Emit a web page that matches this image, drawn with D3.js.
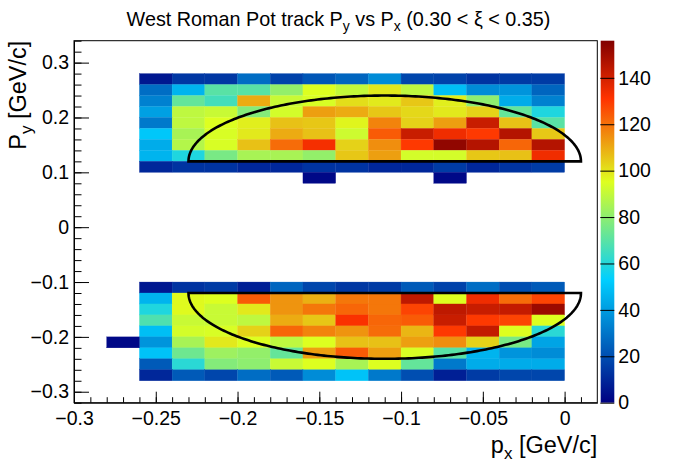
<!DOCTYPE html>
<html>
<head>
<meta charset="utf-8">
<script src="https://cdn.jsdelivr.net/npm/d3@7"></script>
<style>
  body { margin: 0; background: #fff; }
  text { font-family: "Liberation Sans", Arial, Helvetica, sans-serif; fill: #000; }
</style>
</head>
<body>
<div id="chart"></div>
<script>
// West Roman Pot track Py vs Px, 0.30 < xi < 0.35  (COLZ style)

// lower-left corners of the 0.02 x 0.02 bins
var pxBins = [-0.26, -0.24, -0.22, -0.20, -0.18, -0.16, -0.14, -0.12, -0.10, -0.08, -0.06, -0.04, -0.02];
var pyBinsTop = [0.26, 0.24, 0.22, 0.20, 0.18, 0.16, 0.14, 0.12, 0.10];
var pyBinsBottom = [-0.12, -0.14, -0.16, -0.18, -0.20, -0.22, -0.24, -0.26, -0.28];

var countsTop = [
  [ 6, 14, 14,  28,  17,  22,  26,  36,  18,  17,  13,  15,  15],
  [28, 46, 70,  70,  81,  95,  90,  99,  89,  49,  36,  38,  26],
  [33, 72, 66, 110,  91,  94, 101,  99, 105,  98,  80,  44,  33],
  [41, 89, 91,  78,  93, 112, 110, 105, 102,  99, 103,  72,  59],
  [31, 89, 95,  98, 106, 105,  97, 117, 103, 112, 142, 106,  70],
  [51, 85, 94,  99, 110, 106,  92, 124, 142, 134, 130, 146, 105],
  [44, 87, 94, 106, 121, 133, 103, 115, 130, 153, 146, 122, 146],
  [46, 59, 76,  85,  85,  81, 105, 112,  93,  93, 105, 106, 134],
  [10, 13, 13,  10,  10,  13,  13,  10,  10,  15,  10,  13,  15]
];

var countsBottom = [
  [ 6, 13, 15,   8,  26,  18,  14,  15,  23,  17,  28,  20,  23],
  [46, 96, 95, 124, 114, 109, 119, 119, 144,  95, 134, 121, 128],
  [59, 96, 91,  99, 114, 119, 122, 119, 128, 144, 142, 143, 151],
  [68, 91, 91,  89, 110, 105, 132, 122, 124, 142, 130, 128,  95],
  [49, 93, 94, 103, 122, 117, 114, 121, 108, 130, 143,  95,  61],
  [38, 85, 99,  95,  89,  95, 106, 106, 112, 115, 103,  76,  42],
  [50, 74, 83,  81,  72, 112, 124, 112,  94,  70,  46,  38,  36],
  [23, 61, 78,  80,  91,  95,  85,  95,  72,  31,  44,  44,  44],
  [10, 23, 18,  28,  23,  36,  50,  31,  20,   8,  15,  18,  18]
];

// lone bins outside the two bands
var strayPx = [-0.16, -0.08, -0.28];
var strayPy = [0.08, 0.08, -0.22];
var strayN = [2, 2, 2];

// cut shapes: half ellipses closed by a straight line
var cutCx = -0.11, cutRx = 0.12, cutRy = 0.12;
var cutCy = [0.12, -0.12];

var xTicks = [-0.3, -0.25, -0.2, -0.15, -0.1, -0.05, 0];
var yTicks = [-0.3, -0.2, -0.1, 0, 0.1, 0.2, 0.3];
var zTicks = [0, 20, 40, 60, 80, 100, 120, 140];
var zMax = 156;
var binW = 0.02;

var width = 677, height = 464;
var frame = { left: 74, right: 597.3, top: 40.7, bottom: 402.7 };
var bar = { left: 600.7, right: 614.3 };

var svg = d3.select("#chart").append("svg")
  .attr("width", width)
  .attr("height", height);

var x = d3.scaleLinear().domain([-0.3, 0.02]).range([frame.left, frame.right]);
var y = d3.scaleLinear().domain([-0.32, 0.34]).range([frame.bottom, frame.top]);
var z = d3.scaleLinear().domain([0, zMax]).range([frame.bottom, frame.top]);

// classic ROOT rainbow gradient
var stops = [0, 0.34, 0.61, 0.84, 1];
var stopColors = ["rgb(0,0,130)", "rgb(0,207,255)", "rgb(222,255,31)", "rgb(255,51,0)", "rgb(130,0,0)"];
var color = d3.scaleLinear()
  .domain(stops.map(function (s) { return s * zMax; }))
  .range(stopColors)
  .interpolate(d3.interpolateRgb)
  .clamp(true);

var cells = [];
function addBand(rows, counts) {
  rows.forEach(function (py, i) {
    pxBins.forEach(function (px, j) {
      if (counts[i][j] > 0) cells.push({ px: px, py: py, n: counts[i][j] });
    });
  });
}
addBand(pyBinsTop, countsTop);
addBand(pyBinsBottom, countsBottom);
strayPx.forEach(function (px, i) { cells.push({ px: px, py: strayPy[i], n: strayN[i] }); });

svg.append("g")
  .selectAll("rect")
  .data(cells).enter()
  .append("rect")
  .attr("x", function (d) { return x(d.px); })
  .attr("y", function (d) { return y(d.py + binW); })
  .attr("width", function (d) { return x(d.px + binW) - x(d.px); })
  .attr("height", function (d) { return y(d.py) - y(d.py + binW); })
  .attr("fill", function (d) { return color(d.n); })
  .attr("stroke", function (d) { return color(d.n); })
  .attr("stroke-width", 0.3);

// cut outlines
var theta = d3.range(0, 181).map(function (a) { return a * Math.PI / 180; });
cutCy.forEach(function (cy) {
  var sgn = cy > 0 ? 1 : -1;
  var line = d3.line()
    .x(function (t) { return x(cutCx + cutRx * Math.cos(t)); })
    .y(function (t) { return y(cy + sgn * cutRy * Math.sin(t)); });
  svg.append("path")
    .attr("d", line(theta) + "Z")
    .attr("fill", "none")
    .attr("stroke", "#000")
    .attr("stroke-width", 2.6);
});

// frame
svg.append("rect")
  .attr("x", frame.left)
  .attr("y", frame.top)
  .attr("width", frame.right - frame.left)
  .attr("height", frame.bottom - frame.top)
  .attr("fill", "none")
  .attr("stroke", "#000")
  .attr("stroke-width", 1);

var fmt = d3.format("~g");

// axes, ticks pointing inward like ROOT
var xMinor = d3.range(-30, 2, 1).map(function (v) { return v / 100; });
var yMinor = d3.range(-32, 35, 2).map(function (v) { return v / 100; });

svg.append("g")
  .attr("transform", "translate(0," + frame.bottom + ")")
  .call(d3.axisBottom(x).tickValues(xMinor).tickSize(-5.5).tickSizeOuter(0).tickFormat(""))
  .call(function (g) { g.select(".domain").remove(); });

svg.append("g")
  .attr("class", "axis")
  .attr("transform", "translate(0," + frame.bottom + ")")
  .call(d3.axisBottom(x).tickValues(xTicks).tickSize(-11).tickSizeOuter(0).tickPadding(8.5).tickFormat(fmt));

svg.append("g")
  .attr("transform", "translate(" + frame.left + ",0)")
  .call(d3.axisLeft(y).tickValues(yMinor).tickSize(-7.5).tickSizeOuter(0).tickFormat(""))
  .call(function (g) { g.select(".domain").remove(); });

svg.append("g")
  .attr("class", "axis")
  .attr("transform", "translate(" + frame.left + ",0)")
  .call(d3.axisLeft(y).tickValues(yTicks).tickSize(-15).tickSizeOuter(0).tickPadding(5).tickFormat(fmt));

svg.selectAll(".axis text")
  .style("font-size", "19.5px")
  .style("font-family", "'Liberation Sans', Arial, sans-serif");

// palette
var grad = svg.append("defs").append("linearGradient")
  .attr("id", "pal")
  .attr("x1", 0).attr("y1", 1).attr("x2", 0).attr("y2", 0);
grad.selectAll("stop")
  .data(stops).enter()
  .append("stop")
  .attr("offset", function (d) { return d; })
  .attr("stop-color", function (d, i) { return stopColors[i]; });

svg.append("rect")
  .attr("x", bar.left)
  .attr("y", z(zMax))
  .attr("width", bar.right - bar.left)
  .attr("height", z(0) - z(zMax))
  .attr("fill", "url(#pal)");

svg.append("g")
  .attr("class", "zaxis")
  .attr("transform", "translate(" + bar.right + ",0)")
  .call(d3.axisRight(z).tickValues(zTicks).tickSize(-14).tickSizeOuter(0).tickPadding(4).tickFormat(fmt))
  .call(function (g) { g.select(".domain").remove(); });

svg.selectAll(".zaxis text")
  .style("font-size", "19.5px")
  .style("font-family", "'Liberation Sans', Arial, sans-serif");

// titles
var title = svg.append("text")
  .attr("x", 338.5)
  .attr("y", 26)
  .attr("text-anchor", "middle")
  .style("font-size", "19.8px");
title.append("tspan").text("West Roman Pot track P");
title.append("tspan").attr("dy", 4.5).style("font-size", "14px").text("y");
title.append("tspan").attr("dy", -4.5).text(" vs P");
title.append("tspan").attr("dy", 4.5).style("font-size", "14px").text("x");
title.append("tspan").attr("dy", -4.5).text(" (0.30 < \u03be < 0.35)");

var xTitle = svg.append("text")
  .attr("x", frame.right)
  .attr("y", 453)
  .attr("text-anchor", "end")
  .style("font-size", "23.5px");
xTitle.append("tspan").text("p");
xTitle.append("tspan").attr("dy", 6).style("font-size", "17px").text("x");
xTitle.append("tspan").attr("dy", -6).text(" [GeV/c]");

var yTitle = svg.append("text")
  .attr("transform", "translate(26," + frame.top + ") rotate(-90)")
  .attr("text-anchor", "end")
  .style("font-size", "23.5px");
yTitle.append("tspan").text("P");
yTitle.append("tspan").attr("dy", 6).style("font-size", "17px").text("y");
yTitle.append("tspan").attr("dy", -6).text(" [GeV/c]");
</script>
</body>
</html>
